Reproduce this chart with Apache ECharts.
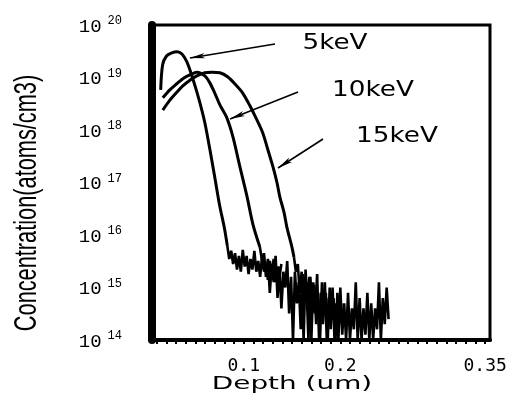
<!DOCTYPE html>
<html><head><meta charset="utf-8">
<script src="https://cdn.jsdelivr.net/npm/echarts@6/dist/echarts.min.js"></script>
<style>html,body{margin:0;padding:0;background:#fff}#c{width:507px;height:403px}</style>
</head><body><div id="c"></div>
<script>
// ---- data (depth in um, concentration in atoms/cm3) ----
const depth5 = [0.014, 0.016, 0.020, 0.0255, 0.031, 0.036, 0.041, 0.046, 0.0515, 0.0566, 0.060, 0.065, 0.070, 0.075, 0.080, 0.083];
const conc5  = [5.8e18, 1.74e19, 2.57e19, 2.95e19, 3.1e19, 2.8e19, 2.0e19, 1.12e19, 5.25e18, 2.4e18, 1.3e18, 4.2e17, 1.26e17, 3.7e16, 1.35e16, 6.2e15];
const tailDepth5 = [0.085,0.087,0.089,0.091,0.093,0.095,0.097,0.099,0.101,0.103,0.105,0.107,0.109,0.111,0.113,0.115,0.117,0.119,0.121,0.123,0.125,0.127,0.129,0.131,0.133,0.135,0.137,0.139];
const tailConc5  = [3.5e15,5.0e15,2.8e15,4.5e15,2.2e15,4.0e15,2.0e15,5.2e15,2.5e15,4.0e15,1.8e15,3.5e15,2.2e15,5.0e15,2.0e15,3.2e15,1.6e15,4.0e15,2.0e15,2.8e15,1.4e15,3.2e15,1.8e15,3.5e15,1.26e15,2.5e15,1.6e15,2.8e15];

const depth10 = [0.0162, 0.0235, 0.0307, 0.038, 0.0442, 0.0515, 0.0597, 0.0649, 0.0701, 0.0753, 0.0825, 0.0888, 0.096, 0.1033, 0.1095, 0.1167];
const conc10  = [4.1e18, 5.8e18, 7.6e18, 9.8e18, 1.12e19, 1.26e19, 1.07e19, 7.9e18, 5.0e18, 3.0e18, 1.7e18, 7.4e17, 2.0e17, 5.5e16, 1.6e16, 5.9e15];
const tailDepth10 = [0.119,0.121,0.123,0.125,0.127,0.129,0.131,0.133,0.135,0.137,0.139,0.141,0.143,0.145,0.147,0.149,0.151,0.153,0.155,0.157,0.159,0.161,0.163,0.165,0.167,0.169,0.171,0.173,0.175,0.177,0.179,0.181,0.183,0.185,0.187,0.189,0.191,0.193,0.195,0.197,0.199,0.201];
const tailConc10  = [3.2e15,4.5e15,1.6e15,3.5e15,7.9e14,2.8e15,1.26e15,4.0e15,6.3e14,2.5e15,4.0e14,2.0e15,1.0e15,3.2e15,3.2e14,1.6e15,1e14,2.0e15,5.0e14,1.26e15,1.6e14,1.8e15,6.3e14,1.0e15,1e14,1.6e15,3.2e14,1.12e15,2.0e14,7.9e14,1e14,1.26e15,4.0e14,7.9e14,1e14,1.0e15,2.5e14,6.3e14,1e14,7.9e14,2.0e14,5.0e14];

const depth15 = [0.0162, 0.0235, 0.0307, 0.0369, 0.0442, 0.0515, 0.0597, 0.067, 0.0753, 0.0836, 0.0919, 0.0991, 0.1064, 0.1126, 0.1198, 0.125, 0.1302, 0.1344, 0.1375, 0.1416, 0.1447, 0.1499, 0.152];
const conc15  = [2.4e18, 3.7e18, 5.25e18, 6.9e18, 8.9e18, 1.07e19, 1.23e19, 1.26e19, 1.23e19, 1.02e19, 7.2e18, 5.0e18, 2.9e18, 1.7e18, 8.7e17, 4.2e17, 2.0e17, 1.0e17, 5.2e16, 2.75e16, 1.4e16, 5.9e15, 3.8e15];
const tailDepth15 = [0.154,0.156,0.158,0.160,0.162,0.164,0.166,0.168,0.170,0.172,0.174,0.176,0.178,0.180,0.182,0.184,0.186,0.188,0.190,0.192,0.194,0.196,0.198,0.200,0.202,0.204,0.206,0.208,0.210,0.212,0.214,0.216,0.218,0.220,0.222,0.224,0.226,0.228,0.230,0.232,0.234,0.236,0.238,0.240,0.242,0.244,0.246,0.248,0.250];
const tailConc15  = [2.0e15,2.8e15,7.9e14,2.0e15,1e14,2.2e15,5.0e14,1.6e15,1e14,1.26e15,3.2e14,1.8e15,1e14,7.9e14,2.0e14,1.26e15,1e14,6.3e14,1.6e14,1.0e15,1e14,5.0e14,1e14,1.0e15,1.26e14,5.0e14,1e14,7.9e14,1e14,4.0e14,1.6e14,1.26e15,1e14,6.3e14,1e14,4.0e14,1.26e14,7.9e14,1e14,5.0e14,1e14,4.0e14,1.6e14,1.26e15,1e14,6.3e14,2.0e14,1.0e15,2.5e14];

const energyLabels = ['5keV', '10keV', '15keV'];
const arrowFrom = [[0.1324, 4.35e19], [0.1562, 5.3e18], [0.1821, 6.75e17]];
const arrowTo   = [[0.0443, 2.35e19], [0.0858, 1.62e18], [0.1355, 1.89e17]];

const xTickValues = [0.1, 0.2, 0.35];
const xTickLabels = ['0.1', '0.2', '0.35'];
const xTitle = 'Depth (um)';
const yTitle = 'Concentration(atoms/cm3)';

// ---- build ----
function zip(xs, ys) { return xs.map((x, i) => [x, ys[i]]); }
const minorTicks = [];
for (let i = 1; i <= 35; i++) minorTicks.push(+(i * 0.01).toFixed(2));

const mains = [[depth5, conc5, tailDepth5, tailConc5], [depth10, conc10, tailDepth10, tailConc10], [depth15, conc15, tailDepth15, tailConc15]];
const series = [];
mains.forEach((m, i) => {
  const main = zip(m[0], m[1]);
  series.push({
    name: energyLabels[i], type: 'line', data: main, showSymbol: false, smooth: 0.3, silent: true,
    lineStyle: { color: '#000', width: 3 },
    markLine: {
      silent: true, symbol: ['none', 'arrow'], symbolSize: [4, 15], animation: false,
      lineStyle: { color: '#000', width: 1.6, type: 'solid' }, label: { show: false },
      data: [[{ coord: arrowFrom[i] }, { coord: arrowTo[i] }]]
    }
  });
  series.push({
    name: energyLabels[i], type: 'line', data: [main[main.length - 1]].concat(zip(m[2], m[3])),
    showSymbol: false, smooth: false, silent: true, lineStyle: { color: '#000', width: 2.6 }
  });
});

const chart = echarts.init(document.getElementById('c'), null, { renderer: 'canvas' });
chart.setOption({
  animation: false,
  backgroundColor: '#fff',
  grid: { left: 152, top: 25, right: 17, bottom: 63, show: true, borderColor: '#000', borderWidth: 3, containLabel: false, outerBoundsMode: 'none' },
  xAxis: {
    type: 'value', min: 0.005, max: 0.355,
    axisLine: { show: true, onZero: false, lineStyle: { color: '#000', width: 4 } },
    axisTick: { show: true, customValues: minorTicks, length: 4, inside: false, lineStyle: { color: '#000', width: 2 } },
    axisLabel: { customValues: xTickValues, formatter: v => xTickLabels[xTickValues.findIndex(t => Math.abs(t - v) < 1e-6)] || '',
      color: '#000', fontFamily: 'DejaVu Sans Mono', fontSize: 18, margin: 17 },
    splitLine: { show: false }
  },
  yAxis: {
    type: 'log', logBase: 10, min: 1e14, max: 1e20,
    axisLine: { show: true, onZero: false, lineStyle: { color: '#000', width: 8 } },
    axisTick: { show: true, length: 4, lineStyle: { color: '#000', width: 2 } },
    splitLine: { show: false },
    axisLabel: {
      margin: 30, color: '#000',
      formatter: v => '{b|10}{s|' + Math.round(Math.log10(v)) + '}',
      rich: {
        b: { fontFamily: 'Liberation Mono', fontSize: 19, color: '#000', verticalAlign: 'bottom', lineHeight: 22 },
        s: { fontFamily: 'Liberation Mono', fontSize: 12, color: '#000', verticalAlign: 'bottom', lineHeight: 22, padding: [0, 0, 9, 6] }
      }
    }
  },
  graphic: [
    { type: 'text', x: 27, y: 203, rotation: Math.PI / 2, scaleX: 0.68, scaleY: 1, silent: true,
      style: { text: yTitle, font: '32px "Liberation Sans"', fill: '#000', align: 'center', verticalAlign: 'middle', textAlign: 'center', textVerticalAlign: 'middle' } },
    { type: 'text', x: 292, y: 384, scaleX: 1.55, scaleY: 1, silent: true,
      style: { text: xTitle, font: '18px "DejaVu Sans"', fill: '#000', align: 'center', verticalAlign: 'middle', textAlign: 'center', textVerticalAlign: 'middle' } },
    { type: 'text', x: 335, y: 44, scaleX: 1.25, silent: true,
      style: { text: energyLabels[0], font: '21px "DejaVu Sans"', fill: '#000', align: 'center', verticalAlign: 'middle', textAlign: 'center', textVerticalAlign: 'middle' } },
    { type: 'text', x: 373, y: 91, scaleX: 1.25, silent: true,
      style: { text: energyLabels[1], font: '21px "DejaVu Sans"', fill: '#000', align: 'center', verticalAlign: 'middle', textAlign: 'center', textVerticalAlign: 'middle' } },
    { type: 'text', x: 397, y: 137, scaleX: 1.25, silent: true,
      style: { text: energyLabels[2], font: '21px "DejaVu Sans"', fill: '#000', align: 'center', verticalAlign: 'middle', textAlign: 'center', textVerticalAlign: 'middle' } }
  ],
  series: series
});
</script></body></html>
